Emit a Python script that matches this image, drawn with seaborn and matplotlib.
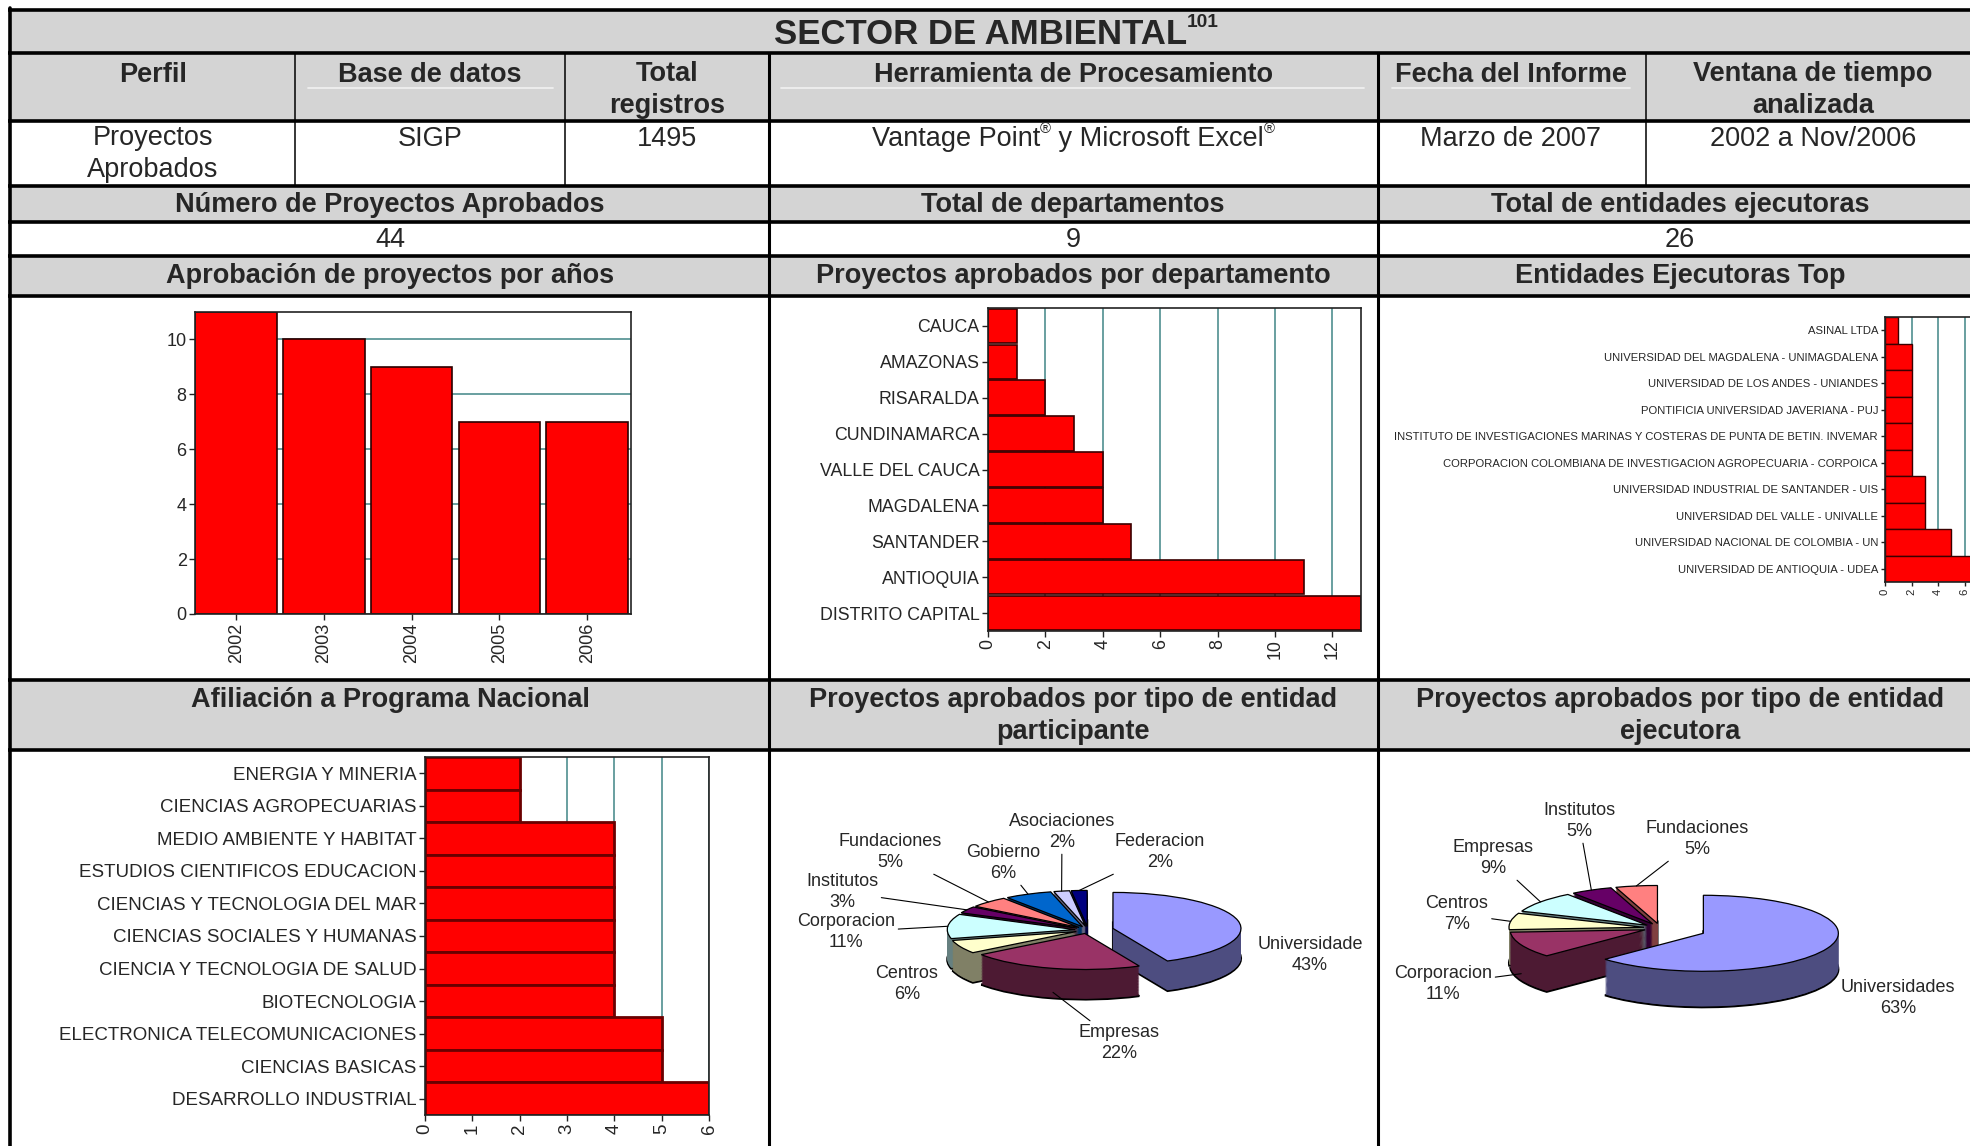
import matplotlib
matplotlib.use('Agg')
import matplotlib.pyplot as plt
import matplotlib.colors as mcolors
from matplotlib.patches import Rectangle
import numpy as np
import seaborn as sns

# ---- data ----
years = ['2002', '2003', '2004', '2005', '2006']
projects_per_year = [11, 10, 9, 7, 7]

departments = ['CAUCA', 'AMAZONAS', 'RISARALDA', 'CUNDINAMARCA', 'VALLE DEL CAUCA',
               'MAGDALENA', 'SANTANDER', 'ANTIOQUIA', 'DISTRITO CAPITAL']
dept_counts = [1, 1, 2, 3, 4, 4, 5, 11, 13]

entities = ['ASINAL LTDA',
            'UNIVERSIDAD DEL MAGDALENA - UNIMAGDALENA',
            'UNIVERSIDAD DE LOS ANDES - UNIANDES',
            'PONTIFICIA UNIVERSIDAD JAVERIANA - PUJ',
            'INSTITUTO DE INVESTIGACIONES MARINAS Y COSTERAS DE PUNTA DE BETIN. INVEMAR',
            'CORPORACION COLOMBIANA DE INVESTIGACION AGROPECUARIA - CORPOICA',
            'UNIVERSIDAD INDUSTRIAL DE SANTANDER - UIS',
            'UNIVERSIDAD DEL VALLE - UNIVALLE',
            'UNIVERSIDAD NACIONAL DE COLOMBIA - UN',
            'UNIVERSIDAD DE ANTIOQUIA - UDEA']
entity_counts = [1, 2, 2, 2, 2, 2, 3, 3, 5, 7]

programs = ['ENERGIA Y MINERIA', 'CIENCIAS AGROPECUARIAS', 'MEDIO AMBIENTE Y HABITAT',
            'ESTUDIOS CIENTIFICOS EDUCACION', 'CIENCIAS Y TECNOLOGIA DEL MAR',
            'CIENCIAS SOCIALES Y HUMANAS', 'CIENCIA Y TECNOLOGIA DE SALUD', 'BIOTECNOLOGIA',
            'ELECTRONICA TELECOMUNICACIONES', 'CIENCIAS BASICAS', 'DESARROLLO INDUSTRIAL']
program_counts = [2, 2, 4, 4, 4, 4, 4, 4, 5, 5, 6]

participant_types = ['Universidade', 'Empresas', 'Centros', 'Corporacion', 'Institutos',
                     'Fundaciones', 'Gobierno', 'Asociaciones', 'Federacion']
participant_pct = [43, 22, 6, 11, 3, 5, 6, 2, 2]

executor_types = ['Universidades', 'Corporacion', 'Centros', 'Empresas', 'Institutos', 'Fundaciones']
executor_pct = [63, 11, 7, 9, 5, 5]

header_titles = ['Perfil', 'Base de datos', 'Total\nregistros', 'Herramienta de Procesamiento',
                 'Fecha del Informe', 'Ventana de tiempo\nanalizada']
header_values = ['Proyectos\nAprobados', 'SIGP', '1495', None, 'Marzo de 2007', '2002 a Nov/2006']
summary_labels = ['Número de Proyectos Aprobados', 'Total de departamentos', 'Total de entidades ejecutoras']
summary_values = ['44', '9', '26']
section_titles_top = ['Aprobación de proyectos por años', 'Proyectos aprobados por departamento',
                      'Entidades Ejecutoras Top']
section_titles_bottom = ['Afiliación a Programa Nacional',
                         'Proyectos aprobados por tipo de entidad\nparticipante',
                         'Proyectos aprobados por tipo de entidad\nejecutora']

excel_colors = ['#9999FF', '#993366', '#FFFFCC', '#CCFFFF', '#660066',
                '#FF8080', '#0066CC', '#CCCCFF', '#000080']

# ---- figure setup ----
W, H = 1970, 1146
sns.set_style('ticks')
plt.rcParams['font.family'] = ['Liberation Sans', 'DejaVu Sans']

fig = plt.figure(figsize=(W / 100, H / 100), dpi=100)
GRAY = '#d4d4d4'
RED = '#ff0000'
TEAL = '#4f8f90'
HFS = 19.5  # table text size


def rect(x0, y0, x1, y1):
    return [x0 / W, 1 - y1 / H, (x1 - x0) / W, (y1 - y0) / H]


bg = fig.add_axes([0, 0, 1, 1], zorder=0)
bg.set_xlim(0, W)
bg.set_ylim(H, 0)
bg.axis('off')
for y0, y1 in [(10, 53), (53, 121), (186, 222), (256, 296), (680, 750)]:
    bg.add_patch(Rectangle((10, y0), W, y1 - y0, color=GRAY, lw=0))

ov = fig.add_axes([0, 0, 1, 1], zorder=30)
ov.set_xlim(0, W)
ov.set_ylim(H, 0)
ov.axis('off')

# table grid
for y in [10, 53, 121, 186, 222, 256, 296, 680, 750]:
    ov.plot([8, W], [y, y], color='black', lw=2.6, solid_capstyle='butt')
ov.plot([10, 10], [8, H], color='black', lw=2.6)
for x in [769, 1378]:
    ov.plot([x, x], [53, H], color='black', lw=2.2)
for x in [295, 565, 1646]:
    ov.plot([x, x], [53, 186], color='black', lw=1.1)
for x0, x1 in [(308, 553), (781, 1364), (1392, 1630)]:
    ov.plot([x0, x1], [88, 88], color='#efefef', lw=1.3)

renderer = fig.canvas.get_renderer()


def rich_text(x, y, parts, size, weight='normal'):
    items, total = [], 0
    for s, sup in parts:
        t = ov.text(0, y, s, fontsize=size * 0.55 if sup else size, fontweight=weight,
                    ha='left', va='center')
        w = t.get_window_extent(renderer).width
        items.append((t, w, sup))
        total += w
    cur = x - total / 2
    for t, w, sup in items:
        t.set_x(cur)
        if sup:
            t.set_y(y - size * 1.389 * 0.36)
        cur += w


rich_text(996, 35, [('SECTOR DE AMBIENTAL', False), ('101', True)], 25, 'bold')

col_centers = [153, 430, 667, 1073, 1511, 1813]
for xc, t in zip(col_centers, header_titles):
    ov.text(xc, 75 if '\n' not in t else 90, t, fontsize=HFS, fontweight='bold',
            ha='center', va='center', linespacing=1.3)
for xc, t in zip(col_centers, header_values):
    if t is None:
        rich_text(xc, 139, [('Vantage Point', False), ('®', True),
                            (' y Microsoft Excel', False), ('®', True)], HFS)
    else:
        ov.text(xc, 139 if '\n' not in t else 154, t, fontsize=HFS, ha='center', va='center',
                linespacing=1.3)

sec_centers = [390, 1073, 1680]
for xc, t in zip(sec_centers, summary_labels):
    ov.text(xc, 205, t, fontsize=HFS, fontweight='bold', ha='center', va='center')
for xc, t in zip(sec_centers, summary_values):
    ov.text(xc, 240, t, fontsize=HFS, ha='center', va='center')
for xc, t in zip(sec_centers, section_titles_top):
    ov.text(xc, 276, t, fontsize=HFS, fontweight='bold', ha='center', va='center')
for xc, t in zip(sec_centers, section_titles_bottom):
    ov.text(xc, 700 if '\n' not in t else 716, t, fontsize=HFS, fontweight='bold',
            ha='center', va='center', linespacing=1.3)


def style_axes(ax, size, grid_axis):
    for s in ax.spines.values():
        s.set_color('#222222')
        s.set_linewidth(1.2)
        s.set_visible(True)
    ax.grid(axis=grid_axis, color=TEAL, lw=1.2)
    ax.set_axisbelow(True)
    ax.tick_params(length=4, width=1, color='#222222', pad=2, labelsize=size)
    ax.set_xlabel('')
    ax.set_ylabel('')


# ---- chart 1: projects per year ----
ax1 = fig.add_axes(rect(195, 312, 631, 614), zorder=5)
sns.barplot(x=years, y=projects_per_year, color=RED, saturation=1, width=0.93,
            edgecolor='#2a0000', linewidth=1.2, ax=ax1)
ax1.set_ylim(0, 11)
ax1.set_xlim(-0.47, 4.5)
ax1.set_yticks(range(0, 11, 2))
style_axes(ax1, 13, 'y')
ax1.tick_params(axis='x', labelrotation=90)

# ---- chart 2: departments ----
ax2 = fig.add_axes(rect(988, 308, 1361, 631), zorder=5)
sns.barplot(x=dept_counts, y=departments, orient='h', color=RED, saturation=1, width=0.96,
            edgecolor='#3a0000', linewidth=1.2, ax=ax2)
ax2.set_xlim(0, 13)
ax2.set_ylim(len(departments) - 0.5, -0.5)
ax2.set_xticks(range(0, 13, 2))
style_axes(ax2, 12.8, 'x')
ax2.tick_params(axis='x', labelrotation=90)

# ---- chart 3: top executing entities (cropped at the right edge, as in the report) ----
ax3 = fig.add_axes(rect(1885, 317, 1991, 582), zorder=5)
sns.barplot(x=entity_counts, y=entities, orient='h', color=RED, saturation=1, width=1.0,
            edgecolor='#3a0000', linewidth=1.0, ax=ax3)
ax3.set_xlim(0, 8)
ax3.set_ylim(len(entities) - 0.5, -0.5)
ax3.set_xticks(range(0, 7, 2))
style_axes(ax3, 8.1, 'x')
ax3.tick_params(axis='x', labelrotation=90, length=3)
ax3.tick_params(axis='y', length=3)

# ---- chart 4: national programme ----
ax4 = fig.add_axes(rect(425, 757, 709, 1115), zorder=5)
sns.barplot(x=program_counts, y=programs, orient='h', color=RED, saturation=1, width=1.0,
            edgecolor='#6a0000', linewidth=2.0, ax=ax4)
ax4.set_xlim(0, 6)
ax4.set_ylim(len(programs) - 0.5, -0.5)
ax4.set_xticks(range(0, 7))
style_axes(ax4, 13.5, 'x')
ax4.tick_params(axis='x', labelrotation=90)


# ---- pseudo 3D pies ----
def shade(c, f=0.5):
    r, g, b = mcolors.to_rgb(c)
    return (r * f, g * f, b * f)


def pie3d(cell, center, rx, ry, depth, names, vals, explode, label_px, leaders):
    x0, y0, x1, y1 = cell
    cx, cy = center
    ax = fig.add_axes(rect(x0, y0, x1, y1), zorder=5)
    colors = excel_colors[:len(vals)]
    dz = depth / ry
    layers = 40
    side = [shade(c) for c in colors]
    # bottom outline first, then the extruded side, then the top face
    ax.pie(vals, colors=side, explode=explode, startangle=90, counterclock=False,
           center=(0, -dz), wedgeprops=dict(edgecolor='black', linewidth=1.5))
    for k in range(layers - 1, 0, -1):
        ax.pie(vals, colors=side, explode=explode, startangle=90, counterclock=False,
               center=(0, -dz * k / layers), wedgeprops=dict(linewidth=0))
    wedges, _ = ax.pie(vals, colors=colors, explode=explode, startangle=90, counterclock=False,
                       wedgeprops=dict(edgecolor='black', linewidth=0.9))
    ax.set_aspect('auto')
    ax.set_xlim((x0 - cx) / rx, (x1 - cx) / rx)
    ax.set_ylim((cy - y1) / ry, (cy - y0) / ry)
    for w, name, v, (lx, ly), lead in zip(wedges, names, vals, label_px, leaders):
        mid = np.deg2rad((w.theta1 + w.theta2) / 2)
        px = w.center[0] + np.cos(mid)
        py = w.center[1] + np.sin(mid)
        if np.sin(mid) < -0.3:
            py -= dz * 0.8
        txt = f'{name}\n{v}%'
        pos = ((lx - cx) / rx, (cy - ly) / ry)
        if lead:
            ax.annotate(txt, xy=(px, py), xytext=pos, ha='center', va='center', fontsize=13,
                        linespacing=1.3,
                        arrowprops=dict(arrowstyle='-', color='black', lw=0.8,
                                        shrinkA=0, shrinkB=0))
        else:
            ax.text(pos[0], pos[1], txt, ha='center', va='center', fontsize=13, linespacing=1.3)


pie3d((771, 752, 1376, H), (1088, 930), 128, 36, 30, participant_types, participant_pct,
      [0.2, 0.1, 0.1, 0.1, 0.1, 0.1, 0.1, 0.1, 0.1],
      [(1310, 955), (1119, 1043), (907, 984), (846, 932), (842, 892),
       (890, 852), (1003, 863), (1062, 832), (1160, 852)],
      [False, True, False, True, True, True, True, True, True])

pie3d((1380, 752, W, H), (1660, 928), 135, 38, 36, executor_types, executor_pct,
      [0.35, 0.12, 0.12, 0.12, 0.12, 0.12],
      [(1898, 998), (1443, 984), (1457, 914), (1493, 858), (1579, 821), (1697, 839)],
      [False, True, True, True, True, True])

fig.savefig('out.png', dpi=100)
